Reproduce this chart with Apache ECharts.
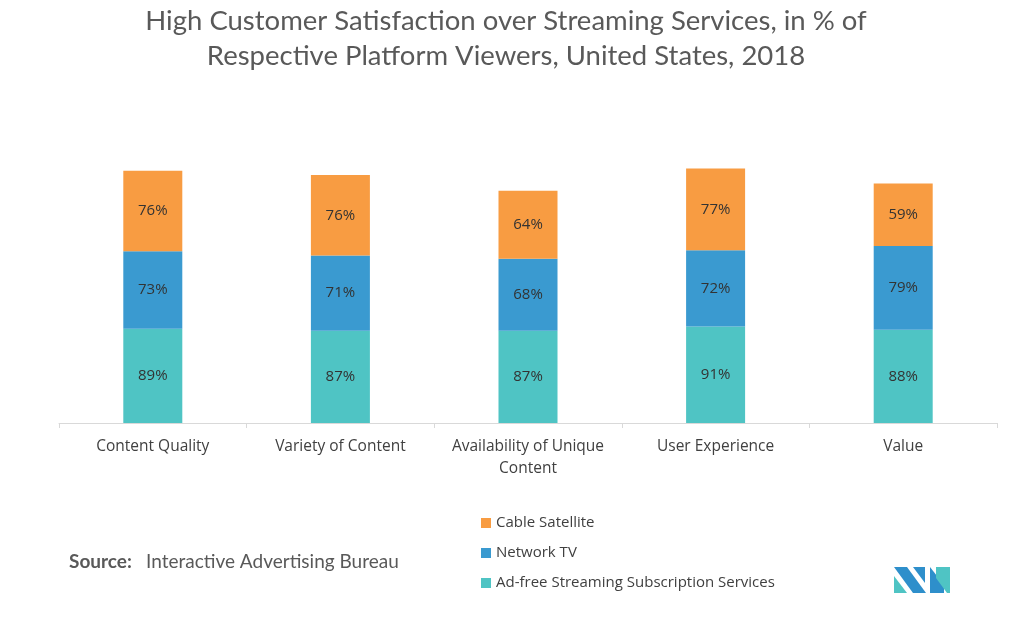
<!DOCTYPE html>
<html><head><meta charset="utf-8">
<script src="https://cdn.jsdelivr.net/npm/echarts@6/dist/echarts.min.js"></script>
<style>html,body{margin:0;padding:0;background:#fff}#c{width:1024px;height:627px}</style>
</head><body><div id="c"></div>
<script>
const categories = ['Content Quality', 'Variety of Content', 'Availability of Unique\nContent', 'User Experience', 'Value'];
const adFree = [89, 87, 87, 91, 88];
const networkTV = [73, 71, 68, 72, 79];
const cableSatellite = [76, 76, 64, 77, 59];
const seriesNames = ['Ad-free Streaming Subscription Services', 'Network TV', 'Cable Satellite'];
const colors = ['#4FC4C4', '#3A9AD0', '#F89C42'];

const chart = echarts.init(document.getElementById('c'));
const lbl = {show: true, position: 'inside', formatter: '{c}%', color: '#333333', fontSize: 15, fontFamily: 'Open Sans'};
const mk = (name, data, color) => ({name, type: 'bar', stack: 'total', data, barWidth: 59,
  itemStyle: {color}, label: lbl, emphasis: {disabled: true}});
chart.setOption({
  animation: false,
  title: {
    text: 'High Customer Satisfaction over Streaming Services, in % of\nRespective Platform Viewers, United States, 2018',
    left: 501, top: -1, textAlign: 'center',
    textStyle: {fontFamily: 'Lato', fontWeight: 'normal', fontSize: 27.5, color: '#595959', lineHeight: 35}
  },
  legend: {
    orient: 'vertical', left: 476, top: 509, itemGap: 12, itemWidth: 10, itemHeight: 10,
    data: [seriesNames[2], seriesNames[1], seriesNames[0]],
    textStyle: {fontFamily: 'Open Sans', fontSize: 15, color: '#404040', lineHeight: 18},
    icon: 'rect'
  },
  grid: {left: 59, right: 27, top: 105, bottom: 204, containLabel: false},
  xAxis: {
    type: 'category', data: categories,
    axisLine: {lineStyle: {color: '#D9D9D9'}},
    axisTick: {show: true, interval: 0, length: 5, lineStyle: {color: '#D9D9D9'}},
    axisLabel: {interval: 0, hideOverlap: false, fontFamily: 'Open Sans', fontSize: 15.5, color: '#404040', margin: 13, lineHeight: 22}
  },
  yAxis: {type: 'value', min: 0, max: 300, show: false, splitLine: {show: false}},
  series: [mk(seriesNames[0], adFree, colors[0]), mk(seriesNames[1], networkTV, colors[1]), mk(seriesNames[2], cableSatellite, colors[2])],
  graphic: [
    {type: 'text', left: 69, top: 552, style: {text: 'Source:', font: 'bold 19px Lato', fill: '#595959'}},
    {type: 'text', left: 146, top: 552, style: {text: 'Interactive Advertising Bureau', font: '19px Lato', fill: '#595959'}},
    {type: 'polygon', shape: {points: [[894,567],[907,567],[926,593],[913,593]]}, style: {fill: '#2E8FCB'}},
    {type: 'polygon', shape: {points: [[894,576],[894,593],[907,593]]}, style: {fill: '#4FC4C4'}},
    {type: 'polygon', shape: {points: [[913,567],[925,567],[925,583]]}, style: {fill: '#2E8FCB'}},
    {type: 'polygon', shape: {points: [[930,567],[944,585],[944,593],[930,593]]}, style: {fill: '#2E8FCB'}},
    {type: 'polygon', shape: {points: [[936,567],[950,567],[950,593],[947,593],[936,578]]}, style: {fill: '#4FC4C4'}}
  ]
});
</script></body></html>
